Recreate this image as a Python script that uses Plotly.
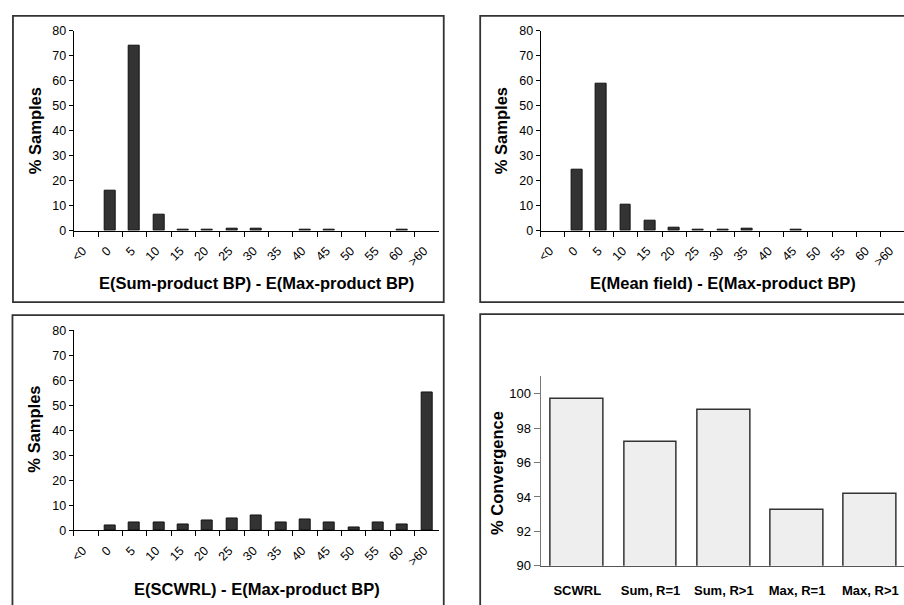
import plotly.graph_objects as go

W, H = 904, 605

bins = ["<0", "0", "5", "10", "15", "20", "25", "30", "35", "40", "45", "50", "55", "60", ">60"]
sum_product = [0, 16.0, 73.9, 6.4, 0.3, 0.3, 0.8, 0.8, 0, 0.3, 0.3, 0, 0, 0.3, 0]
mean_field = [0, 24.2, 58.7, 10.5, 3.9, 1.3, 0.4, 0.4, 0.7, 0, 0.4, 0, 0, 0, 0]
scwrl = [0, 1.8, 3.3, 3.0, 2.5, 3.9, 4.9, 5.85, 3.25, 4.55, 3.25, 1.3, 3.0, 2.5, 55.3]

methods = ["SCWRL", "Sum, R=1", "Sum, R>1", "Max, R=1", "Max, R>1"]
convergence = [99.68, 97.19, 99.08, 93.22, 94.16]

FONT = "Liberation Sans, Arial, sans-serif"

def px_x(p):
    return p / W

def px_y(p):
    return 1 - p / H

fig = go.Figure()

hist_sets = [
    (sum_product, "x", "y"),
    (mean_field, "x2", "y2"),
    (scwrl, "x3", "y3"),
]
for vals, xa, ya in hist_sets:
    fig.add_trace(go.Bar(
        x=bins, y=vals, xaxis=xa, yaxis=ya, width=0.45,
        marker=dict(color="#333333",
                    line=dict(color="#111111", width=[1 if v > 0 else 0 for v in vals])),
        showlegend=False, hoverinfo="x+y",
    ))

fig.add_trace(go.Bar(
    x=methods, y=convergence, xaxis="x4", yaxis="y4", width=0.72,
    marker=dict(color="#eeeeee", line=dict(color="#333333", width=1.5)),
    showlegend=False,
))

hist_x = dict(
    type="category", tickson="boundaries", ticks="outside", ticklen=5,
    tickcolor="#000", showline=True, linecolor="#000", linewidth=1,
    tickangle=-45, tickfont=dict(family=FONT, size=12.5, color="#000"),
    showgrid=False, zeroline=False, ticklabelshift=-3, ticklabelstandoff=7,
)
hist_y = dict(
    range=[0, 80], dtick=10, tick0=0, ticks="outside", ticklen=4,
    tickcolor="#000", showline=True, linecolor="#000", linewidth=1,
    tickfont=dict(family=FONT, size=12.5, color="#000"),
    showgrid=False, zeroline=False,
)

left_dom = [px_x(70), px_x(437)]
right_dom = [px_x(539), 1.0]
top_dom = [px_y(229.3), px_y(24.3)]
bot_dom = [px_y(536.7), px_y(331.7)]

fig.update_layout(
    width=W, height=H, margin=dict(l=0, r=0, t=0, b=0),
    paper_bgcolor="white", plot_bgcolor="white",
    font=dict(family=FONT, color="#000"),
    bargap=0,
    xaxis=dict(hist_x, domain=left_dom, anchor="y", range=[-0.5, 14.5]),
    yaxis=dict(hist_y, domain=top_dom, anchor="x"),
    xaxis2=dict(hist_x, domain=right_dom, anchor="y2", range=[-0.5, -0.5 + 365 / 24.4]),
    yaxis2=dict(hist_y, domain=top_dom, anchor="x2"),
    xaxis3=dict(hist_x, domain=left_dom, anchor="y3", range=[-0.5, 14.5]),
    yaxis3=dict(hist_y, domain=bot_dom, anchor="x3"),
    xaxis4=dict(
        type="category", domain=right_dom, anchor="y4",
        range=[-0.5, -0.5 + 365 / 73.6], ticks="", showline=True,
        linecolor="#555", linewidth=1.2, showgrid=False, zeroline=False,
        tickfont=dict(family=FONT, size=13, color="#000", weight="bold"),
        ticklabelstandoff=13,
    ),
    yaxis4=dict(
        domain=[px_y(573), px_y(378.3)], anchor="x4", range=[90, 101.03],
        dtick=2, tick0=90, ticks="outside", ticklen=6, tickcolor="#777",
        showline=True, linecolor="#777", linewidth=1, showgrid=False, zeroline=False,
        tickfont=dict(family=FONT, size=13, color="#000"),
    ),
)

# Panel frames
frames = [
    (9, 441.7, 9, 302.7),
    (478.3, 910, 9, 302.7),
    (8.5, 441.7, 316, 615),
    (478.3, 910, 315, 615),
]
for x0, x1, y0, y1 in frames:
    fig.add_shape(type="rect", xref="paper", yref="paper",
                  x0=px_x(x0), x1=px_x(x1), y0=px_y(y1), y1=px_y(y0),
                  line=dict(color="#333333", width=1.8), layer="above")

title_font = dict(family=FONT, size=16.5, color="#000", weight="bold")
annots = [
    ("E(Sum-product BP) - E(Max-product BP)", 253.5, 283.5, 0),
    ("E(Mean field) - E(Max-product BP)", 722.5, 283.5, 0),
    ("E(SCWRL) - E(Max-product BP)", 254, 596.5, 0),
    ("% Samples", 30.5, 127, -90),
    ("% Samples", 499.5, 127, -90),
    ("% Samples", 30.5, 433, -90),
    ("% Convergence", 494.5, 477.5, -90),
]
for text, cx, cy, ang in annots:
    fig.add_annotation(text=text, xref="paper", yref="paper",
                       x=px_x(cx), y=px_y(cy), xanchor="center", yanchor="middle",
                       showarrow=False, textangle=ang, font=title_font)

fig.write_html(
    "out.html",
    config={"displayModeBar": False},
    post_script=(
        "document.documentElement.style.margin='0';"
        "document.body.style.margin='0';document.body.style.padding='0';"
        "document.body.style.overflow='hidden';"
        "var d=document.getElementById('{plot_id}');"
        "d.style.position='absolute';d.style.left='0px';d.style.top='0px';"
    ),
)
